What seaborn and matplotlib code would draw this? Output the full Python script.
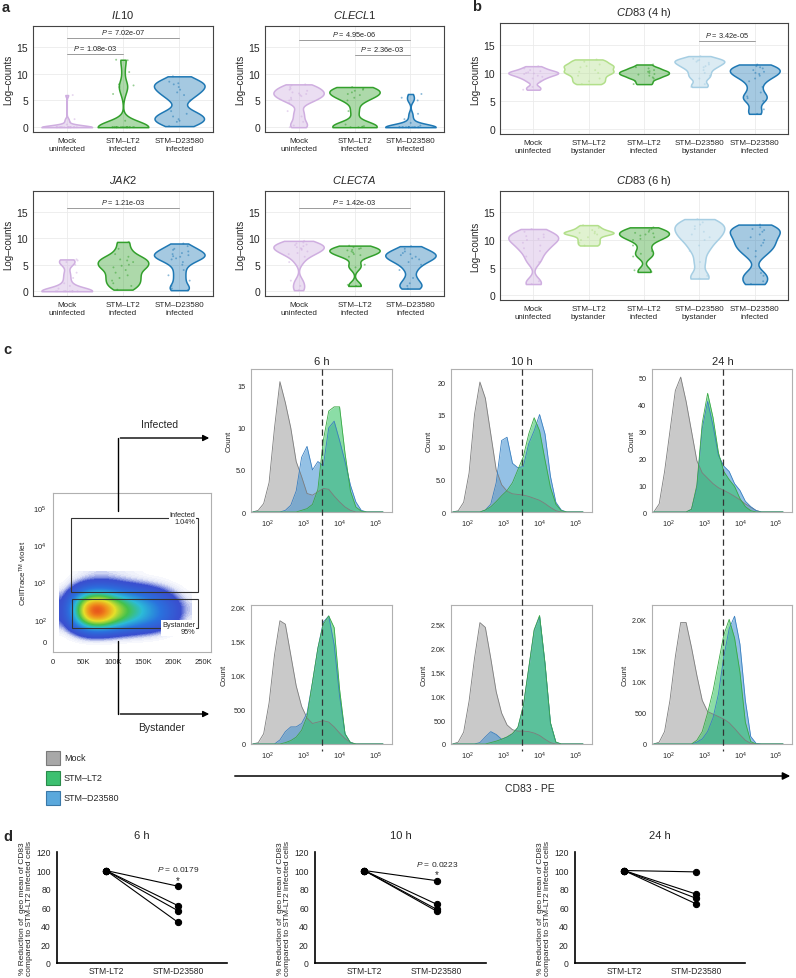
import numpy as np
import pandas as pd
import matplotlib
matplotlib.use('Agg')
import matplotlib.pyplot as plt
import seaborn as sns
from matplotlib.lines import Line2D
from matplotlib.patches import Rectangle, FancyArrowPatch
from matplotlib.colors import LinearSegmentedColormap, to_rgba
from matplotlib.ticker import FixedLocator, FixedFormatter, AutoMinorLocator, NullFormatter

# ============================================================
# DATA
# ============================================================
# --- panel a: violins (log-counts per cell) ---
a_groups = ['Mock\nuninfected', 'STM–LT2\ninfected', 'STM–D23580\ninfected']
a_colors = ['#cfaee0', '#33a02c', '#1f78b4']

il10_mock = [0, 0, 0, 0, 0, 0, 0, 0, 0, 0, 0, 0, 0, 0, 0, 0, 0, 0, 0.5, 1.0, 1.5, 6.0]
il10_lt2 = [0, 0, 0, 0, 0, 0, 0, 0, 0, 0, 0, 0, 0, 0, 0, 0, 0, 0, 0, 0, 1.2, 6.2, 7.5, 7.8, 8.0, 10.3, 12.5, 12.6]
il10_d = [0.2, 1.0, 1.2, 1.5, 2.0, 2.5, 3.0, 5.0, 6.0, 6.5, 7.0, 7.5, 8.0, 8.2, 8.5, 9.5]

clecl1_mock = [0, 0.3, 1.0, 2.0, 3.0, 4.5, 5.0, 5.2, 5.5, 5.8, 6.0, 6.2, 6.3, 6.5, 6.8, 7.0, 7.2, 7.5, 7.8, 8.0]
clecl1_lt2 = [0, 0, 0, 0.1, 0.2, 0.5, 3.0, 5.0, 5.5, 6.0, 6.2, 6.5, 6.8, 7.0, 7.2, 7.5]
clecl1_d = [0, 0, 0, 0, 0, 0, 0, 0, 0, 0, 0, 0, 0, 0, 0.3, 0.8, 1.5, 2.5, 5.0, 5.5, 6.2]

jak2_mock = [0, 0, 0, 0, 0, 0, 0, 0, 0, 0, 0.5, 1.0, 1.5, 2.5, 3.5, 5.0, 5.5, 5.8, 6.0]
jak2_lt2 = [0.3, 1.0, 1.5, 2.0, 2.5, 3.0, 3.5, 4.0, 4.5, 4.8, 5.0, 5.5, 5.8, 6.0, 6.5, 7.0, 8.0, 9.3]
jak2_d = [0.2, 0.5, 1.0, 2.0, 3.0, 4.0, 5.0, 5.5, 6.0, 6.2, 6.5, 6.6, 6.8, 7.0, 7.2, 7.5, 7.8, 8.0, 8.5, 9.0]

clec7a_mock = [0.2, 1.0, 2.0, 5.5, 6.5, 7.0, 7.2, 7.5, 7.8, 8.0, 8.1, 8.3, 8.5, 8.7, 8.8, 9.0, 9.2, 9.5]
clec7a_lt2 = [1.0, 1.2, 4.5, 5.0, 6.5, 6.8, 7.0, 7.3, 7.5, 7.7, 7.8, 8.0, 8.1, 8.3, 8.6]
clec7a_d = [0.5, 1.0, 1.5, 2.5, 4.0, 5.0, 5.5, 6.0, 6.2, 6.5, 6.8, 7.0, 7.2, 7.5, 8.0, 8.5]

# --- panel b: CD83 violins ---
b_groups = ['Mock\nuninfected', 'STM–LT2\nbystander', 'STM–LT2\ninfected',
            'STM–D23580\nbystander', 'STM–D23580\ninfected']
b_colors = ['#cfaee0', '#b2df8a', '#33a02c', '#a6cee3', '#1f78b4']

cd83_4h_mock = [7.0, 7.5, 8.5, 9.0, 9.3, 9.5, 9.8, 9.9, 10.0, 10.1, 10.3, 10.5, 10.8, 11.2]
cd83_4h_lt2_by = [8.0, 8.5, 9.0, 9.5, 10.0, 10.2, 10.5, 11.0, 11.2, 11.5, 12.0, 12.4]
cd83_4h_lt2_inf = [8.0, 8.5, 9.0, 9.2, 9.5, 9.7, 9.8, 10.0, 10.2, 10.3, 10.5, 10.8, 11.0, 11.5]
cd83_4h_d_by = [7.5, 8.0, 9.0, 9.5, 10.0, 10.5, 11.0, 11.2, 11.5, 11.8, 12.0, 12.2, 12.3, 12.5, 13.0]
cd83_4h_d_inf = [2.7, 3.5, 5.0, 5.5, 5.8, 6.5, 7.5, 8.5, 9.0, 9.5, 9.8, 10.0, 10.2, 10.5, 10.8, 11.0, 11.2, 11.5]

cd83_6h_mock = [2.0, 2.5, 6.0, 7.0, 8.0, 8.5, 9.0, 9.5, 10.0, 10.2, 10.5, 10.7, 11.0, 11.5, 12.0]
cd83_6h_lt2_by = [9.0, 9.5, 10.0, 10.5, 11.0, 11.2, 11.3, 11.5, 11.8, 12.2, 12.7]
cd83_6h_lt2_inf = [4.2, 4.5, 7.0, 7.5, 8.0, 9.0, 10.0, 10.2, 10.5, 10.8, 11.0, 11.2, 11.3, 11.5, 11.8, 12.0, 12.3]
cd83_6h_d_by = [3.0, 3.5, 6.0, 8.0, 9.0, 10.0, 10.5, 11.0, 11.5, 12.0, 12.5, 12.8, 13.2, 13.8]
cd83_6h_d_inf = [2.0, 2.5, 3.5, 4.0, 7.0, 8.0, 8.5, 9.0, 9.5, 10.0, 10.5, 11.0, 11.5, 11.8, 12.0, 12.3, 12.8]

# --- panel c: CD83-PE histograms (log10 bin centres, counts) ---
hist_logx = [1.6, 1.75, 1.9, 2.05, 2.2, 2.35, 2.5, 2.65, 2.8, 2.95, 3.1, 3.25, 3.4,
             3.55, 3.7, 3.85, 4.0, 4.15, 4.3, 4.45, 4.6, 4.75, 4.9, 5.05, 5.2]
gate_cd83 = 3300

inf6_mock = [0, 0.2, 1.0, 3.5, 10, 15.5, 13, 10, 6, 4.2, 2.2, 2.0, 2.4, 2.8, 2.7, 1.9, 1.2, 0.6, 0.2, 0, 0, 0, 0, 0, 0]
inf6_lt2 = [0, 0, 0, 0, 0, 0, 0, 0, 0, 0.2, 0.4, 0.9, 2.7, 8.5, 12, 12.5, 12.5, 7, 2.5, 0.6, 0.1, 0, 0, 0, 0]
inf6_d = [0, 0, 0, 0, 0, 0, 0.2, 0.8, 2.5, 6.5, 7.8, 5, 6, 5.5, 10, 10.8, 8.5, 6, 3.2, 1.2, 0.2, 0, 0, 0, 0]

inf10_mock = [0, 0.2, 1.5, 6, 15, 20, 17.5, 12, 6.5, 4.2, 3.2, 2.8, 2.7, 2.6, 2.4, 2.1, 1.8, 1.3, 0.7, 0.2, 0, 0, 0, 0, 0]
inf10_lt2 = [0, 0, 0, 0, 0, 0, 0.3, 0.8, 1.6, 2.5, 3.3, 4.5, 6.5, 8.5, 12, 14.5, 12.5, 8, 3.8, 1.2, 0.2, 0, 0, 0, 0]
inf10_d = [0, 0, 0, 0, 0, 0, 0.3, 1.2, 4.5, 11, 11.5, 7.5, 6.8, 7, 10.5, 12.5, 15, 12, 5.5, 1.5, 0.3, 0, 0, 0, 0]

inf24_mock = [0, 3, 15, 30, 45, 50, 41, 30, 19, 14.5, 12.5, 10.5, 9, 8, 7, 5.8, 4.5, 3, 1.8, 0.6, 0, 0, 0, 0, 0]
inf24_lt2 = [0, 0, 0, 0, 0, 0, 0, 1, 10, 33, 44, 35, 22, 15, 12, 9.5, 5, 2, 0.5, 0, 0, 0, 0, 0, 0]
inf24_d = [0, 0, 0, 0, 0, 0, 0, 1, 9, 31, 41, 32, 21, 17, 15, 10.5, 8, 4, 2, 0.5, 0, 0, 0, 0, 0]

bys6_mock = [0, 20, 150, 600, 1300, 1800, 1750, 1300, 850, 550, 380, 300, 320, 340, 320, 250, 160, 80, 25, 0, 0, 0, 0, 0, 0]
bys6_lt2 = [0, 0, 0, 0, 0, 0, 20, 50, 100, 200, 400, 900, 1400, 1750, 1870, 1700, 800, 150, 20, 0, 0, 0, 0, 0, 0]
bys6_d = [0, 0, 0, 0, 0, 60, 180, 250, 250, 300, 450, 900, 1400, 1780, 1870, 1450, 700, 150, 20, 0, 0, 0, 0, 0, 0]

bys10_mock = [0, 40, 250, 900, 1800, 2550, 2450, 1800, 1100, 650, 400, 300, 270, 270, 260, 230, 180, 100, 30, 0, 0, 0, 0, 0, 0]
bys10_lt2 = [0, 0, 0, 0, 0, 0, 0, 30, 60, 100, 150, 220, 350, 800, 1600, 2400, 2700, 1700, 450, 40, 0, 0, 0, 0, 0]
bys10_d = [0, 0, 0, 0, 0, 30, 150, 260, 200, 100, 140, 210, 340, 780, 1580, 2380, 2680, 1680, 440, 40, 0, 0, 0, 0, 0]

bys24_mock = [0, 30, 200, 700, 1400, 1950, 1950, 1550, 1100, 700, 520, 480, 440, 400, 340, 250, 150, 60, 10, 0, 0, 0, 0, 0, 0]
bys24_lt2 = [0, 0, 0, 0, 0, 0, 0, 0, 60, 200, 500, 850, 1300, 1750, 2000, 1700, 1150, 350, 40, 0, 0, 0, 0, 0, 0]
bys24_d = [0, 0, 0, 0, 0, 0, 0, 0, 30, 80, 200, 420, 800, 1400, 1850, 2050, 1600, 700, 120, 10, 0, 0, 0, 0, 0]

# --- panel c: gating plot, event density on a coarse grid (FSC-A x CellTrace, log10 display) ---
dens_x = [20e3, 40e3, 60e3, 80e3, 100e3, 120e3, 140e3, 160e3, 180e3, 200e3, 220e3]
dens_y = [1.4, 1.6, 1.8, 2.0, 2.2, 2.4, 2.6, 2.8, 3.0, 3.2]
dens_z = [
    [0, 0, 0, 0, 0, 0, 0, 0, 0, 0, 0],
    [0, 0.3, 0.8, 0.8, 0.6, 0.4, 0.3, 0.2, 0.1, 0, 0],
    [0.2, 1.5, 3.5, 3.8, 3.0, 2.2, 1.6, 1.2, 0.7, 0.3, 0],
    [0.4, 3.5, 7.5, 8.0, 6.0, 4.5, 3.5, 2.6, 1.8, 0.8, 0.1],
    [0.5, 4.5, 9.3, 9.8, 7.2, 5.4, 4.2, 3.0, 2.0, 1.0, 0.2],
    [0.5, 4.2, 8.8, 9.2, 6.8, 5.0, 3.9, 2.8, 1.8, 0.9, 0.2],
    [0.3, 2.8, 5.5, 5.8, 4.5, 3.4, 2.6, 1.8, 1.2, 0.5, 0.1],
    [0.1, 1.0, 2.2, 2.4, 2.0, 1.5, 1.1, 0.8, 0.5, 0.2, 0],
    [0, 0.3, 0.6, 0.7, 0.6, 0.4, 0.3, 0.2, 0.1, 0, 0],
    [0, 0.05, 0.15, 0.2, 0.15, 0.1, 0.05, 0, 0, 0, 0],
]

# --- panel d: % of STM-LT2 geo mean ---
d_groups = ['STM-LT2', 'STM-D23580']
d6_lt2 = [100, 100, 100, 100]
d6_d = [83, 62, 56.5, 44]
d10_lt2 = [100, 100, 100, 100]
d10_d = [89, 63.5, 58, 56]
d24_lt2 = [100, 100, 100, 100]
d24_d = [98.5, 74.5, 70, 64]

# ============================================================
# STYLE
# ============================================================
sns.set_style('white')
plt.rcParams['font.family'] = ['Liberation Sans', 'DejaVu Sans']
plt.rcParams['mathtext.fontset'] = 'custom'
plt.rcParams['mathtext.rm'] = 'Liberation Sans'
plt.rcParams['mathtext.it'] = 'Liberation Sans:italic'
plt.rcParams['mathtext.bf'] = 'Liberation Sans:bold'

W, H = 796, 979
fig = plt.figure(figsize=(W / 100, H / 100), dpi=100)


def box(x0, y0, x1, y1):
    return [x0 / W, 1 - y1 / H, (x1 - x0) / W, (y1 - y0) / H]


def fpt(x, y):
    return (x / W, 1 - y / H)


def ftext(x, y, s, **kw):
    fig.text(x / W, 1 - y / H, s, **kw)


# ─────────────────────────────────────────
# violin panels (a, b)
# ─────────────────────────────────────────
def violin_panel(rect, groups, series, colors, title, brackets):
    ax = fig.add_axes(box(*rect))
    df = pd.DataFrame({'group': [g for g, s in zip(groups, series) for _ in s],
                       'value': [v for s in series for v in s]})
    pal = dict(zip(groups, colors))
    n0 = len(ax.collections)
    sns.violinplot(data=df, x='group', y='value', hue='group', order=groups, hue_order=groups,
                   palette=pal, legend=False, cut=0, density_norm='width', inner=None,
                   width=0.9, bw_adjust=0.5, linewidth=1.1, saturation=1, ax=ax)
    for coll, c in zip(ax.collections[n0:], colors):
        coll.set_facecolor(to_rgba(c, 0.4))
        coll.set_edgecolor(c)
    sns.stripplot(data=df, x='group', y='value', hue='group', order=groups, hue_order=groups,
                  palette=pal, legend=False, size=1.4, jitter=0.2, alpha=0.5,
                  ax=ax, zorder=3)
    for i, j, y, txt in brackets:
        ax.plot([i, j], [y, y], color='#9a9a9a', lw=0.7)
        ax.text((i + j) / 2, y + 0.35, txt, ha='center', va='bottom', fontsize=5.3)
    ax.set_xlim(-0.6, len(groups) - 0.4)
    ax.set_ylim(-0.9, 18.9)
    ax.set_yticks([0, 5, 10, 15])
    ax.grid(True, color='#ebebeb', lw=0.6)
    ax.set_axisbelow(True)
    for sp in ax.spines.values():
        sp.set_color('#444444')
        sp.set_linewidth(0.8)
    ax.tick_params(axis='both', length=2, width=0.6, color='#444444', pad=1.5)
    ax.tick_params(axis='y', labelsize=7.5)
    ax.tick_params(axis='x', labelsize=5.8)
    ax.set_xlabel('')
    ax.set_ylabel('Log–counts', fontsize=7, labelpad=2)
    ax.set_title(title, fontsize=8, pad=6)
    return ax


violin_panel((33, 27, 213, 133), a_groups, [il10_mock, il10_lt2, il10_d], a_colors,
             r'$\mathit{IL10}$',
             [(0, 1, 13.7, r'$\mathit{P}$ = 1.08e-03'), (0, 2, 16.7, r'$\mathit{P}$ = 7.02e-07')])
violin_panel((265, 27, 444, 133), a_groups, [clecl1_mock, clecl1_lt2, clecl1_d], a_colors,
             r'$\mathit{CLECL1}$',
             [(0, 2, 16.3, r'$\mathit{P}$ = 4.95e-06'), (1, 2, 13.5, r'$\mathit{P}$ = 2.36e-03')])
violin_panel((33, 192, 213, 297), a_groups, [jak2_mock, jak2_lt2, jak2_d], a_colors,
             r'$\mathit{JAK2}$', [(0, 2, 15.7, r'$\mathit{P}$ = 1.21e-03')])
violin_panel((265, 192, 444, 297), a_groups, [clec7a_mock, clec7a_lt2, clec7a_d], a_colors,
             r'$\mathit{CLEC7A}$', [(0, 2, 15.7, r'$\mathit{P}$ = 1.42e-03')])
violin_panel((500, 24, 788, 135), b_groups,
             [cd83_4h_mock, cd83_4h_lt2_by, cd83_4h_lt2_inf, cd83_4h_d_by, cd83_4h_d_inf],
             b_colors, r'$\mathit{CD83}$ (4 h)', [(3, 4, 15.7, r'$\mathit{P}$ = 3.42e-05')])
violin_panel((500, 192, 788, 301), b_groups,
             [cd83_6h_mock, cd83_6h_lt2_by, cd83_6h_lt2_inf, cd83_6h_d_by, cd83_6h_d_inf],
             b_colors, r'$\mathit{CD83}$ (6 h)', [])

# ─────────────────────────────────────────
# panel c: gating dot plot
# ─────────────────────────────────────────
axs = fig.add_axes(box(53, 494, 211, 653))
flow_cmap = LinearSegmentedColormap.from_list(
    'flow', [(0, 'white'), (0.015, '#e4e8f8'), (0.05, '#3a4fcf'), (0.2, '#2a72de'),
             (0.36, '#2cbcd8'), (0.5, '#44c24c'), (0.68, '#e6e02a'), (0.84, '#f08a1c'),
             (1.0, '#e0241a')])
dx = dens_x[1] - dens_x[0]
dy = dens_y[1] - dens_y[0]
axs.imshow(np.array(dens_z), origin='lower', aspect='auto', cmap=flow_cmap, vmin=0, vmax=10,
           interpolation='bicubic',
           extent=[dens_x[0] - dx / 2, dens_x[-1] + dx / 2, dens_y[0] - dy / 2, dens_y[-1] + dy / 2])
axs.add_patch(Rectangle((30e3, 2.76), 211e3, 1.97, fill=False, ec='#333333', lw=0.8))
axs.add_patch(Rectangle((31e3, 1.78), 210e3, 0.79, fill=False, ec='#333333', lw=0.8))
axs.text(236e3, 4.73, 'Infected\n1.04%', ha='right', va='center', fontsize=5.3,
         multialignment='right', linespacing=1.15,
         bbox=dict(fc='white', ec='none', pad=0.5))
axs.text(236e3, 1.78, 'Bystander\n95%', ha='right', va='center', fontsize=5.3,
         multialignment='right', linespacing=1.15,
         bbox=dict(fc='white', ec='none', pad=0.5))
axs.set_xlim(0, 262144)
axs.set_ylim(1.14, 5.4)
axs.xaxis.set_major_locator(FixedLocator([0, 50e3, 100e3, 150e3, 200e3, 250e3]))
axs.xaxis.set_major_formatter(FixedFormatter(['0', '50K', '100K', '150K', '200K', '250K']))
axs.xaxis.set_minor_locator(AutoMinorLocator(5))
axs.yaxis.set_major_locator(FixedLocator([1.43, 2, 3, 4, 5]))
axs.yaxis.set_major_formatter(FixedFormatter(['0', '$10^2$', '$10^3$', '$10^4$', '$10^5$']))
minor_y = [d + np.log10(k) for d in (2, 3, 4) for k in range(2, 10)]
minor_y += [1.38, 1.40, 1.41, 1.42, 1.44, 1.45, 1.46, 1.48, 1.6, 1.7, 1.78, 1.85, 1.9, 1.95]
axs.yaxis.set_minor_locator(FixedLocator(minor_y))
axs.tick_params(which='major', length=3, width=0.6, labelsize=5.5, pad=1.5)
axs.tick_params(which='minor', length=1.6, width=0.5)
for sp in axs.spines.values():
    sp.set_color('#b0b0b0')
    sp.set_linewidth(0.8)
axs.set_ylabel(r'CellTrace$^{\mathrm{TM}}$ violet', fontsize=5.8, labelpad=3)

# arrows from the gates
for pts in ([(118, 512), (118, 439)], [(118, 642), (118, 715)]):
    fig.add_artist(Line2D([fpt(*p)[0] for p in pts], [fpt(*p)[1] for p in pts],
                          transform=fig.transFigure, color='black', lw=1.0))
for y in (439, 715):
    fig.add_artist(FancyArrowPatch(fpt(117.5, y), fpt(212, y), transform=fig.transFigure,
                                   arrowstyle='-|>', mutation_scale=9, lw=1.0, color='black'))
ftext(160, 425, 'Infected', ha='center', va='center', fontsize=7.5)
ftext(162, 728, 'Bystander', ha='center', va='center', fontsize=7.5)

# ─────────────────────────────────────────
# panel c: histograms
# ─────────────────────────────────────────
hist_x = 10 ** np.array(hist_logx)
series_style = [('#9e9e9e', '#7d7d7d'), ('#3d8fd1', '#3a7fc0'), ('#2dc25e', '#3aa845')]


def hist_panel(rect, mock, lt2, dd, ymax, ticks, labels):
    ax = fig.add_axes(box(*rect))
    for vals, (fc, ec) in zip([mock, dd, lt2], series_style):
        ax.fill_between(hist_x, vals, color=fc, alpha=0.55, lw=0)
        ax.plot(hist_x, vals, color=ec, lw=0.6)
    ax.set_xscale('log')
    ax.set_xlim(10 ** 1.55, 10 ** 5.45)
    ax.set_ylim(0, ymax)
    ax.xaxis.set_major_locator(FixedLocator([1e2, 1e3, 1e4, 1e5]))
    ax.xaxis.set_major_formatter(FixedFormatter(['$10^2$', '$10^3$', '$10^4$', '$10^5$']))
    ax.xaxis.set_minor_locator(FixedLocator([k * 10 ** d for d in (1, 2, 3, 4) for k in range(2, 10)]))
    ax.xaxis.set_minor_formatter(NullFormatter())
    ax.yaxis.set_major_locator(FixedLocator(ticks))
    ax.yaxis.set_major_formatter(FixedFormatter(labels))
    ax.yaxis.set_minor_locator(AutoMinorLocator(5))
    ax.tick_params(which='major', length=2.5, width=0.6, labelsize=5.2, pad=1.5)
    ax.tick_params(which='minor', length=1.4, width=0.5)
    for sp in ax.spines.values():
        sp.set_color('#b0b0b0')
        sp.set_linewidth(0.8)
    ax.set_ylabel('Count', fontsize=5.8, labelpad=2)
    return ax


cols = [(251, 392), (451, 592), (652, 792)]
top_axes = [
    hist_panel((cols[0][0], 370, cols[0][1], 513), inf6_mock, inf6_lt2, inf6_d, 17,
               [0, 5, 10, 15], ['0', '5.0', '10', '15']),
    hist_panel((cols[1][0], 370, cols[1][1], 513), inf10_mock, inf10_lt2, inf10_d, 22,
               [0, 5, 10, 15, 20], ['0', '5.0', '10', '15', '20']),
    hist_panel((cols[2][0], 370, cols[2][1], 513), inf24_mock, inf24_lt2, inf24_d, 53,
               [0, 10, 20, 30, 40, 50], ['0', '10', '20', '30', '40', '50']),
]
hist_panel((cols[0][0], 606, cols[0][1], 745), bys6_mock, bys6_lt2, bys6_d, 2030,
           [0, 500, 1000, 1500, 2000], ['0', '500', '1.0K', '1.5K', '2.0K'])
hist_panel((cols[1][0], 606, cols[1][1], 745), bys10_mock, bys10_lt2, bys10_d, 2920,
           [0, 500, 1000, 1500, 2000, 2500], ['0', '500', '1.0K', '1.5K', '2.0K', '2.5K'])
hist_panel((cols[2][0], 606, cols[2][1], 745), bys24_mock, bys24_lt2, bys24_d, 2230,
           [0, 500, 1000, 1500, 2000], ['0', '500', '1.0K', '1.5K', '2.0K'])

# dashed CD83 threshold running through both rows
for ax, ttl in zip(top_axes, ['6 h', '10 h', '24 h']):
    xd = ax.transData.transform((gate_cd83, 1))[0]
    xf = fig.transFigure.inverted().transform((xd, 0))[0]
    fig.add_artist(Line2D([xf, xf], [fpt(0, 370)[1], fpt(0, 752)[1]], transform=fig.transFigure,
                          color='#333333', lw=0.9, ls=(0, (5, 3))))
    fig.text(xf, fpt(0, 362)[1], ttl, ha='center', va='center', fontsize=8)

# CD83 axis arrow + legend
fig.add_artist(FancyArrowPatch(fpt(232, 777), fpt(793, 777), transform=fig.transFigure,
                               arrowstyle='-|>', mutation_scale=11, lw=1.1, color='black'))
ftext(530, 789, 'CD83 - PE', ha='center', va='center', fontsize=7.5)

legend_items = [('Mock', '#a8a8a8', '#7a7a7a'), ('STM–LT2', '#3cc070', '#2a8a4a'),
                ('STM–D23580', '#5aa8dc', '#3a78a8')]
for k, (lab, fc, ec) in enumerate(legend_items):
    yc = 759 + k * 20
    x0, y0 = fpt(46, yc + 7)
    fig.add_artist(Rectangle((x0, y0), 14 / W, 14 / H, transform=fig.transFigure,
                             fc=fc, ec=ec, lw=0.8))
    ftext(64, yc, lab, ha='left', va='center', fontsize=6.5)


# ─────────────────────────────────────────
# panel d: paired dot plots
# ─────────────────────────────────────────
def pair_panel(rect, lt2_vals, d_vals, title, ptxt):
    ax = fig.add_axes(box(*rect))
    n = len(lt2_vals)
    df = pd.DataFrame({'group': [d_groups[0]] * n + [d_groups[1]] * n,
                       'value': list(lt2_vals) + list(d_vals),
                       'donor': list(range(n)) * 2})
    sns.lineplot(data=df, x='group', y='value', units='donor', estimator=None, sort=False,
                 color='black', lw=0.8, marker='o', markersize=4.5, markeredgecolor='black',
                 ax=ax, legend=False)
    for line in ax.lines:
        line.set_clip_on(False)
    ax.set_xlim(-0.68, 1.68)
    ax.set_ylim(0, 120)
    ax.set_yticks(range(0, 121, 20))
    sns.despine(ax=ax)
    for sp in ('left', 'bottom'):
        ax.spines[sp].set_color('black')
        ax.spines[sp].set_linewidth(1.2)
    ax.tick_params(axis='both', length=3, width=0.9, color='black', labelsize=6.2, pad=1.5)
    ax.tick_params(axis='x', length=0, pad=2)
    ax.set_xlabel('')
    ax.set_ylabel('% Reduction of  geo mean of CD83\ncompared to STM-LT2 infected cells',
                  fontsize=6, labelpad=2, linespacing=1.05)
    ax.set_title(title, fontsize=8, pad=10)
    if ptxt:
        top = max(d_vals)
        ax.text(1, top + 19, r'$\mathit{P}$ = ' + ptxt, ha='center', va='center', fontsize=6)
        ax.text(1, top + 7, '*', ha='center', va='center', fontsize=7)
    return ax


pair_panel((57, 853, 227, 964), d6_lt2, d6_d, '6 h', '0.0179')
pair_panel((315, 853, 486, 964), d10_lt2, d10_d, '10 h', '0.0223')
pair_panel((575, 853, 745, 964), d24_lt2, d24_d, '24 h', None)

# panel letters
for lab, x, y in [('a', 2, 8), ('b', 472, 7), ('c', 3, 350), ('d', 3, 837)]:
    ftext(x, y, lab, ha='left', va='center', fontsize=10.5, fontweight='bold')

fig.savefig('out.png', dpi=100, facecolor='white')
